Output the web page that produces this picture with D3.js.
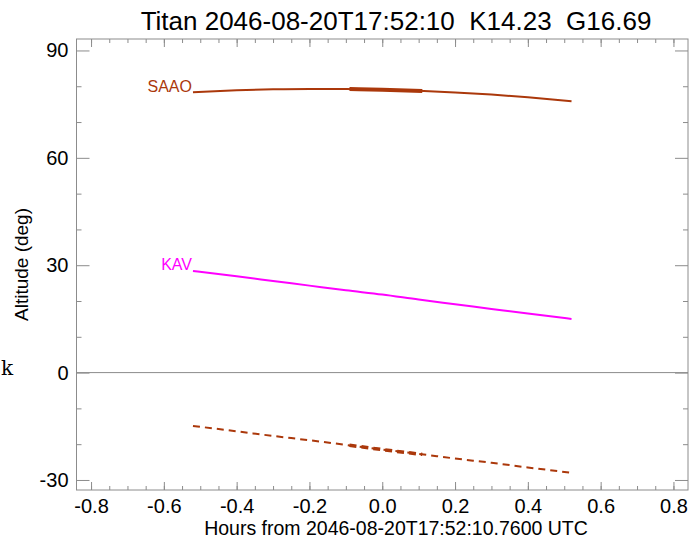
<!DOCTYPE html>
<html>
<head>
<meta charset="utf-8">
<script src="https://cdn.jsdelivr.net/npm/d3@7"></script>
<style>
  body { margin: 0; background: #fff; }
  text { font-family: "Liberation Sans", Arial, sans-serif; }
</style>
</head>
<body>
<script>
// hours from mid time, and altitudes
var hours = [-0.52, -0.4, -0.3, -0.2, -0.1, 0, 0.1, 0.2, 0.3, 0.4, 0.52];
var saao = [78.35, 78.86, 79.13, 79.25, 79.22, 79.05, 78.73, 78.27, 77.66, 76.9, 75.8];
var kav = [28.4, 26.9, 25.6, 24.3, 23.0, 21.8, 20.4, 19.1, 17.8, 16.5, 15.0];
var other = [-14.9, -16.4, -17.7, -18.9, -20.2, -21.5, -22.7, -24.0, -25.2, -26.5, -28.0];

// observing window (thick parts)
var winHours = [-0.09, 0, 0.11];
var winSaao = [79.21, 79.05, 78.69];
var winOther = [-20.3, -21.5, -22.85];

var xMajor = [-0.8, -0.6, -0.4, -0.2, 0.0, 0.2, 0.4, 0.6, 0.8];
var xMinor = d3.range(-0.8, 0.81, 0.05).map(v => +v.toFixed(2));
var yMajor = [-30, 0, 30, 60, 90];
var yMinor = [-20, -10, 10, 20, 40, 50, 70, 80];

var W = 700, H = 539;
var mLeft = 76.5, mRight = 688, mTop = 39, mBottom = 490;
var brown = '#ab380b';
var grey = '#8c8c8c';

var svg = d3.select('body').append('svg')
    .attr('width', W)
    .attr('height', H);

var x = d3.scaleLinear().domain([-0.84, 0.84]).range([mLeft, mRight]);
var y = d3.scaleLinear().domain([-32.8, 93.2]).range([mBottom, mTop]);

var fmtX = d => d3.format('.1f')(d).replace('\u2212', '-');
var fmtY = d => String(d);

function styleAxis(g) {
    g.select('.domain').remove();
    g.selectAll('line').attr('stroke', grey);
    g.selectAll('text').attr('fill', '#000').style('font-size', '20px')
        .style('font-family', '"Liberation Sans", Arial, sans-serif');
}

// bottom axis with labels
svg.append('g')
    .attr('transform', 'translate(0,' + mBottom + ')')
    .call(d3.axisBottom(x).tickValues(xMajor).tickSize(-8).tickPadding(9)
        .tickFormat(fmtX))
    .call(styleAxis)
    .selectAll('text').attr('dy', '0.71em');
svg.append('g')
    .attr('transform', 'translate(0,' + mBottom + ')')
    .call(d3.axisBottom(x).tickValues(xMinor).tickSize(-4).tickFormat(''))
    .call(styleAxis);
// top axis, ticks only
svg.append('g')
    .attr('transform', 'translate(0,' + mTop + ')')
    .call(d3.axisTop(x).tickValues(xMajor).tickSize(-8).tickFormat(''))
    .call(styleAxis);
svg.append('g')
    .attr('transform', 'translate(0,' + mTop + ')')
    .call(d3.axisTop(x).tickValues(xMinor).tickSize(-4).tickFormat(''))
    .call(styleAxis);

// left axis with labels
svg.append('g')
    .attr('transform', 'translate(' + mLeft + ',0)')
    .call(d3.axisLeft(y).tickValues(yMajor).tickSize(-13).tickPadding(8)
        .tickFormat(fmtY))
    .call(styleAxis)
    .selectAll('text').attr('x', -8);
svg.append('g')
    .attr('transform', 'translate(' + mLeft + ',0)')
    .call(d3.axisLeft(y).tickValues(yMinor).tickSize(-5).tickFormat(''))
    .call(styleAxis);
// right axis
svg.append('g')
    .attr('transform', 'translate(' + mRight + ',0)')
    .call(d3.axisRight(y).tickValues(yMajor).tickSize(-13).tickFormat(''))
    .call(styleAxis);
svg.append('g')
    .attr('transform', 'translate(' + mRight + ',0)')
    .call(d3.axisRight(y).tickValues(yMinor).tickSize(-5).tickFormat(''))
    .call(styleAxis);

// frame
svg.append('rect')
    .attr('x', mLeft).attr('y', mTop)
    .attr('width', mRight - mLeft).attr('height', mBottom - mTop)
    .attr('fill', 'none').attr('stroke', grey).attr('stroke-width', 1);

// zero line
svg.append('line')
    .attr('x1', mLeft).attr('x2', mRight)
    .attr('y1', y(0)).attr('y2', y(0))
    .attr('stroke', grey).attr('stroke-width', 1);

var line = d3.line()
    .x(d => x(d[0]))
    .y(d => y(d[1]))
    .curve(d3.curveMonotoneX);

function pairs(xs, ys) { return xs.map((v, i) => [v, ys[i]]); }

svg.append('path').datum(pairs(hours, saao))
    .attr('d', line).attr('fill', 'none')
    .attr('stroke', brown).attr('stroke-width', 2);
svg.append('path').datum(pairs(winHours, winSaao))
    .attr('d', line).attr('fill', 'none')
    .attr('stroke', brown).attr('stroke-width', 4);

svg.append('path').datum(pairs(hours, kav))
    .attr('d', line).attr('fill', 'none')
    .attr('stroke', '#ff00ff').attr('stroke-width', 2);

svg.append('path').datum(pairs(hours, other))
    .attr('d', line).attr('fill', 'none')
    .attr('stroke', brown).attr('stroke-width', 2)
    .attr('stroke-dasharray', '7,5');
svg.append('path').datum(pairs(winHours, winOther))
    .attr('d', line).attr('fill', 'none')
    .attr('stroke', brown).attr('stroke-width', 3.5)
    .attr('stroke-dasharray', '7,5');

// site labels
svg.append('text')
    .attr('x', x(hours[0]) - 1).attr('y', y(saao[0]) - 0.5)
    .attr('text-anchor', 'end')
    .style('font-size', '16px').attr('fill', brown)
    .text('SAAO');
svg.append('text')
    .attr('x', x(hours[0]) - 1).attr('y', y(kav[0]) - 0.5)
    .attr('text-anchor', 'end')
    .style('font-size', '16px').attr('fill', '#ff00ff')
    .text('KAV');

// titles
svg.append('text')
    .attr('x', 396).attr('y', 30)
    .attr('text-anchor', 'middle')
    .attr('xml:space', 'preserve')
    .style('font-size', '26px')
    .text('Titan 2046-08-20T17:52:10  K14.23  G16.69');
svg.append('text')
    .attr('x', 396).attr('y', 535)
    .attr('text-anchor', 'middle')
    .style('font-size', '19.5px')
    .text('Hours from 2046-08-20T17:52:10.7600 UTC');
svg.append('text')
    .attr('transform', 'translate(28,' + ((mTop + mBottom) / 2) + ') rotate(-90)')
    .attr('text-anchor', 'middle')
    .style('font-size', '19px')
    .text('Altitude (deg)');

svg.append('text')
    .attr('x', 1).attr('y', 375)
    .style('font-family', '"DejaVu Serif", serif')
    .style('font-size', '20px')
    .text('k');
</script>
</body>
</html>
